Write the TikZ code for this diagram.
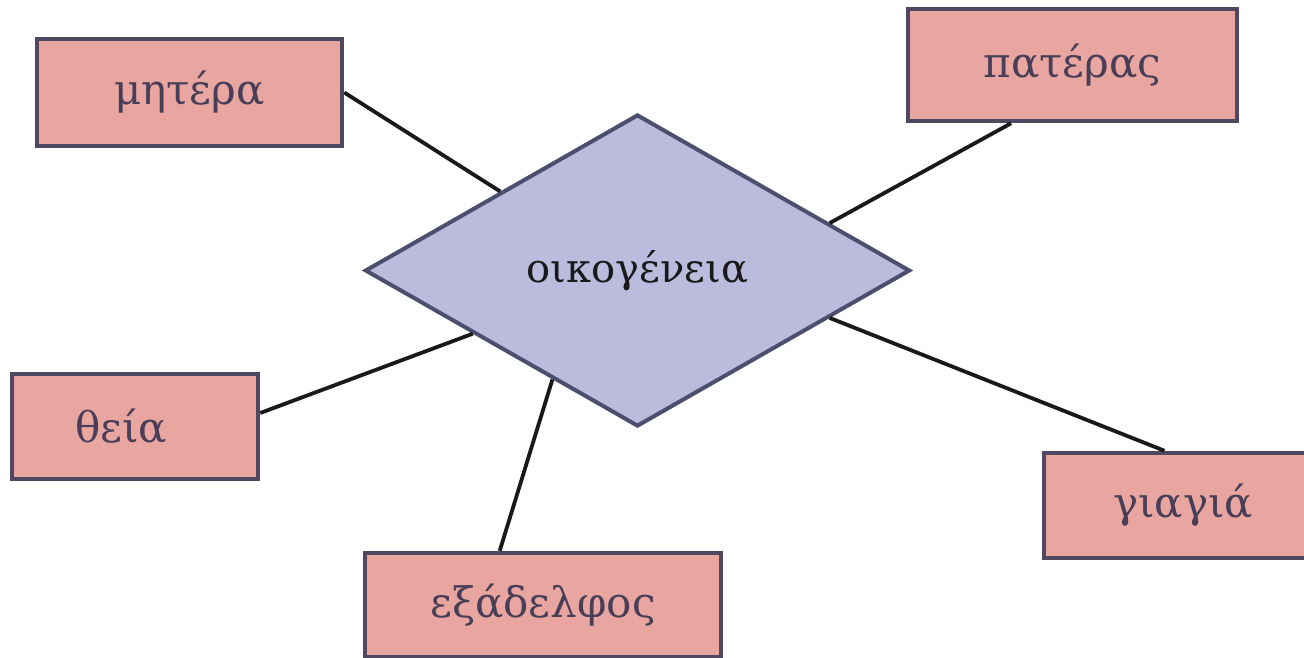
\documentclass[tikz,border=0pt]{standalone}
\usepackage{fontspec}
\setmainfont{DejaVu Serif}
\usetikzlibrary{shapes.geometric,calc}
\definecolor{boxfill}{RGB}{233,166,161}
\definecolor{boxline}{RGB}{80,72,96}
\definecolor{boxtext}{RGB}{72,62,88}
\definecolor{diafill}{RGB}{186,187,221}
\definecolor{dialine}{RGB}{76,78,110}
\tikzset{
  entity/.style={draw=boxline, fill=boxfill, line width=4.5pt, rectangle, inner sep=0pt,
    text=boxtext, font=\fontsize{42}{50}\selectfont},
  relation/.style={draw=dialine, fill=diafill, line width=4pt, diamond, inner sep=0pt,
    text=black!90, font=\fontsize{40}{48}\selectfont},
  link/.style={draw=black!90, line width=3.8pt}
}
\begin{document}
\begin{tikzpicture}[x=1pt,y=-1pt]
\useasboundingbox (0,0) rectangle (1304,658);
\fill[white] (0,0) rectangle (1304,658);
\clip (0,0) rectangle (1304,658);
\node[relation, minimum width=545pt, minimum height=312pt, aspect=1.747] (dia) at (637.5,270.5) {οικογένεια};
\node[entity, minimum width=305pt, minimum height=107pt] (mitera) at (189.5,92.5) {μητέρα};
\node[entity, minimum width=329pt, minimum height=112pt] (pateras) at (1072.5,65) {πατέρας};
\node[entity, minimum width=246pt, minimum height=105pt] (theia) at (135,426.5) {\hspace*{-28pt}θεία};
\node[entity, minimum width=356pt, minimum height=104pt] (exadelfos) at (543,605) {εξάδελφος};
\node[entity, minimum width=300pt, minimum height=105pt] (giagia) at (1194,505.5) {\hspace*{-22pt}γιαγιά};
\draw[link] (mitera.east) -- (dia.north west);
\draw[link] ($(pateras.south west)!0.316!(pateras.south east)$) -- ($(dia.east)!0.3!(dia.north)$);
\draw[link] ([yshift=13.5pt]theia.east) -- ($(dia.west)!0.4!(dia.south)$);
\draw[link] ($(exadelfos.north west)!0.38!(exadelfos.north east)$) -- ($(dia.west)!0.69!(dia.south)$);
\draw[link] ($(giagia.north west)!0.403!(giagia.north east)$) -- ($(dia.east)!0.3!(dia.south)$);
\end{tikzpicture}
\end{document}
